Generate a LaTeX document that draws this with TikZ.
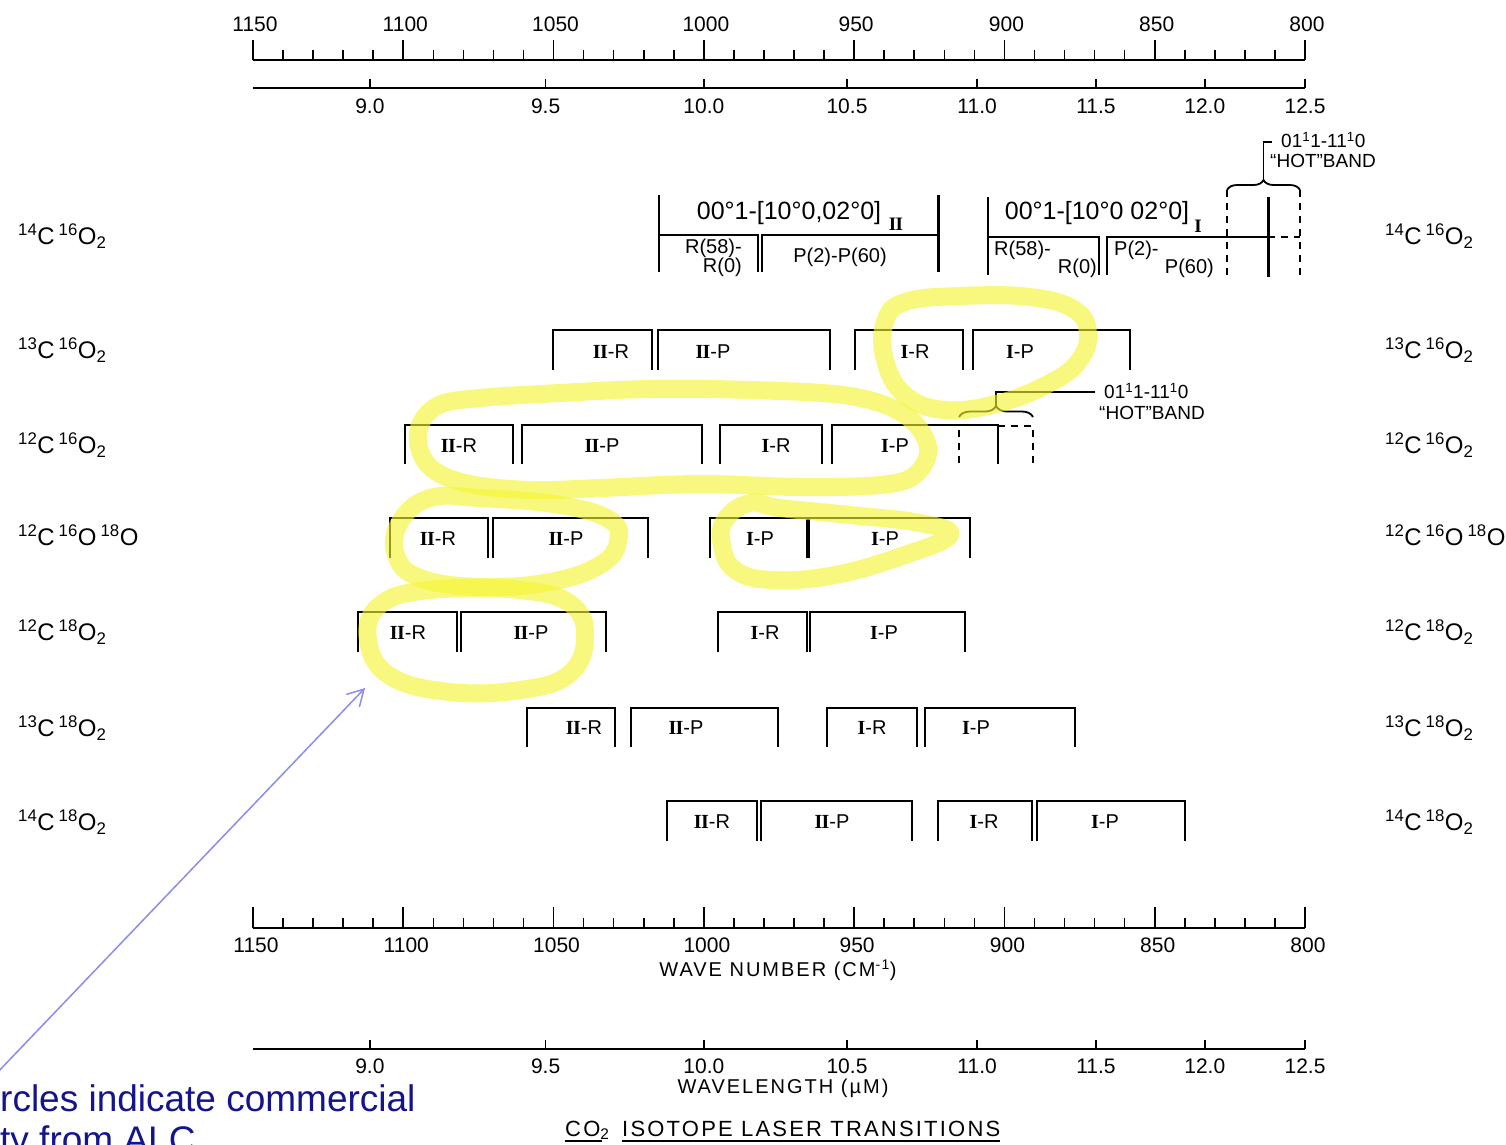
\documentclass[tikz,border=0pt]{standalone}
\usepackage{fontspec}
\setmainfont{Liberation Sans}
\newfontfamily\romfont{Liberation Serif}
\newfontfamily\spacedfont[LetterSpace=10]{Liberation Sans}
\usetikzlibrary{arrows.meta,decorations.pathreplacing}
\definecolor{hilite}{RGB}{245,245,50}
\definecolor{notecol}{RGB}{20,20,140}
\definecolor{arrowcol}{RGB}{140,140,235}
\newcommand{\romI}{{\romfont\bfseries I}}
\newcommand{\romII}{{\romfont\bfseries I\kern-0.6pt I}}
\begin{document}
\begin{tikzpicture}[x=1pt,y=-1pt,
  bx/.style={line width=2.3pt},
  thk/.style={line width=3pt},
  ax/.style={line width=1.8pt},
  tk/.style={line width=1.6pt},
  dsh/.style={line width=2.3pt, dash pattern=on 7pt off 6pt},
  iso/.style={font=\fontsize{24}{28}\selectfont, anchor=west, inner sep=0pt},
  num/.style={font=\fontsize{21}{24}\selectfont, inner sep=0pt},
  blab/.style={font=\fontsize{20}{24}\selectfont, inner sep=0pt},
  sml/.style={font=\fontsize{20}{24}\selectfont, inner sep=0pt},
  hot/.style={font=\fontsize{19}{22}\selectfont, inner sep=0pt, anchor=west},
  hdr/.style={font=\fontsize{25}{28}\selectfont, inner sep=0pt},
  hsub/.style={font=\fontsize{19}{22}\selectfont, inner sep=0pt},
  axttl/.style={font={\spacedfont\fontsize{20}{24}\selectfont}, inner sep=0pt},
  ttl/.style={font={\spacedfont\fontsize{22}{26}\selectfont}, inner sep=0pt, anchor=base west},
  hl/.style={draw=hilite, opacity=0.62, line width=18pt, line cap=round, line join=round},
]
\useasboundingbox (0,0) rectangle (1506,1144);
\clip (0,0) rectangle (1506,1144);
\fill[white] (0,0) rectangle (1506,1144);

% ---------- top wavenumber axis ----------
\draw[ax] (253,60) -- (1305,60);
\foreach \n in {800,810,...,1150}{\draw[tk] ({253+(1150-\n)*3.0057},60) -- ++(0,-10);}
\foreach \n [count=\i] in {800,850,...,1150}{
  \draw[tk] ({253+(1150-\n)*3.0057},60) -- ++(0,-20);
  \node[num] (tn\i) at ({255+(1150-\n)*3.0057},24) {\n};}
% ---------- top wavelength axis ----------
\draw[ax] (253,88) -- (1305,88);
\foreach \l [count=\i] in {9.0,9.5,10.0,10.5,11.0,11.5,12.0,12.5}{
  \pgfmathsetmacro\xx{253+(1150-10000/\l)*3.0057}
  \draw[tk] (\xx,88) -- ++(0,-9);
  \node[num] (tw\i) at (\xx,106) {\l};}

% ---------- bottom wavenumber axis ----------
\draw[ax] (253,928) -- (1305,928);
\foreach \n in {800,810,...,1150}{\draw[tk] ({253+(1150-\n)*3.0057},928) -- ++(0,-10);}
\foreach \n [count=\i] in {800,850,...,1150}{
  \draw[tk] ({253+(1150-\n)*3.0057},928) -- ++(0,-21);
  \node[num] (bn\i) at ({256+(1150-\n)*3.0057},945) {\n};}
\node[axttl] (wnttl) at (778,970) {WAVE NUMBER (CM\textsuperscript{-1})};
% ---------- bottom wavelength axis ----------
\draw[ax] (253,1049) -- (1305,1049);
\foreach \l [count=\i] in {9.0,9.5,10.0,10.5,11.0,11.5,12.0,12.5}{
  \pgfmathsetmacro\xx{253+(1150-10000/\l)*3.0057}
  \draw[tk] (\xx,1049) -- ++(0,-9);
  \node[num] (bw\i) at (\xx,1066) {\l};}
\node[axttl] (wlttl) at (783,1088) {WAVELENGTH (µM)};
\node[ttl] (ttlA) at (565,1136) {CO\textsubscript{2}};
\node[ttl] (ttlB) at (622,1136) {ISOTOPE LASER TRANSITIONS};
\draw[ax] ([yshift=-5pt]ttlA.base west) -- ([yshift=-5pt,xshift=-8pt]ttlA.base east);
\draw[ax] ([yshift=-5pt]ttlB.base west) -- ([yshift=-5pt]ttlB.base east);

% ---------- isotope labels ----------
\foreach \y/\lab [count=\i] in {
  236/\textsuperscript{14}C\,\textsuperscript{16}O\textsubscript{2},
  350/\textsuperscript{13}C\,\textsuperscript{16}O\textsubscript{2},
  445/\textsuperscript{12}C\,\textsuperscript{16}O\textsubscript{2},
  535/\textsuperscript{12}C\,\textsuperscript{16}O\,\textsuperscript{18}O,
  632/\textsuperscript{12}C\,\textsuperscript{18}O\textsubscript{2},
  728/\textsuperscript{13}C\,\textsuperscript{18}O\textsubscript{2},
  822/\textsuperscript{14}C\,\textsuperscript{18}O\textsubscript{2}}{
  \node[iso] (isoL\i) at (18,\y) {\lab};
  \node[iso] (isoR\i) at (1385,\y) {\lab};}

% ---------- row 1: 14C16O2 ----------
\draw[bx] (659,195) -- (659,272);
\draw[thk] (938,195) -- (938,272);
\draw[bx] (659,235) -- (758,235) -- (758,272);
\draw[bx] (762,272) -- (762,235) -- (938,235);
\node[hdr] (hA) at (789,213) {00°1-[10°0,02°0]};
\node[hsub] (hAs) at (896,224) {\romII};
\node[sml, anchor=east] (rA1) at (742,248) {R(58)-};
\node[sml, anchor=east] (rA2) at (742,267) {R(0)};
\node[sml] (pA) at (840,257) {P(2)-P(60)};

\draw[bx] (988,197) -- (988,275);
\draw[bx] (988,237) -- (1099,237) -- (1099,275);
\draw[bx] (1107,275) -- (1107,237) -- (1268,237);
\draw[thk] (1268,197) -- (1268,277);
\draw[dsh] (1227,190) -- (1227,277);
\draw[dsh] (1300,190) -- (1300,277);
\draw[dsh] (1268,237) -- (1300,237);
\node[hdr] (hB) at (1097,213) {00°1-[10°0 02°0]};
\node[hsub] (hBs) at (1198,226) {\romI};
\node[sml, anchor=west] (rB1) at (994,250) {R(58)-};
\node[sml, anchor=east] (rB2) at (1097,268) {R(0)};
\node[sml, anchor=west] (pB1) at (1114,250) {P(2)-};
\node[sml, anchor=east] (pB2) at (1214,268) {P(60)};
\draw[line width=1.8pt, decorate, decoration={brace, amplitude=10pt}] (1227,190) -- (1300,190);
\coordinate (hb1tip) at (1263.5,180);
\coordinate (hb1end) at (1272,142);
\draw[line width=1.8pt] (hb1tip) |- (hb1end);
\node[hot] (hb1a) at (1281,140) {01\textsuperscript{1}1-11\textsuperscript{1}0};
\node[hot] (hb1b) at (1270,161) {“HOT”BAND};

% ---------- rows 2-7: bracket boxes ----------
% row 2 13C16O2
\foreach \a/\b/\lx/\t [count=\i] in {553/652/611/\romII-R, 658/830/713/\romII-P, 855/963/915/\romI-R, 973/1130/1020/\romI-P}{
  \draw[bx] (\a,370) |- (\b,330) -- (\b,370);
  \node[blab] (r2b\i) at (\lx,352) {\t};}
% row 3 12C16O2
\foreach \a/\b/\lx/\t [count=\i] in {405/513/459/\romII-R, 522/702/602/\romII-P, 720/822/776/\romI-R, 832/998/895/\romI-P}{
  \draw[bx] (\a,464) |- (\b,425) -- (\b,464);
  \node[blab] (r3b\i) at (\lx,446) {\t};}
\draw[dsh] (959,430) -- (959,465);
\draw[dsh] (998,426) -- (1033,426) -- (1033,465);
\draw[line width=1.8pt, decorate, decoration={brace, amplitude=11pt}] (959,417) -- (1033,417);
\coordinate (hb2tip) at (996,407);
\coordinate (hb2end) at (1095,392);
\draw[line width=1.8pt] (hb2tip) |- (hb2end);
\node[hot] (hb2a) at (1104,391) {01\textsuperscript{1}1-11\textsuperscript{1}0};
\node[hot] (hb2b) at (1099,413) {“HOT”BAND};
% row 4 12C16O18O
\foreach \a/\b/\lx/\t [count=\i] in {390/488/438/\romII-R, 493/648/566/\romII-P, 710/807/760/\romI-P, 809/970/885/\romI-P}{
  \draw[bx] (\a,558) |- (\b,518) -- (\b,558);
  \node[blab] (r4b\i) at (\lx,539) {\t};}
% row 5 12C18O2
\foreach \a/\b/\lx/\t [count=\i] in {358/457/408/\romII-R, 461/606/531/\romII-P, 718/807/765/\romI-R, 810/965/884/\romI-P}{
  \draw[bx] (\a,652) |- (\b,612) -- (\b,652);
  \node[blab] (r5b\i) at (\lx,633) {\t};}
% row 6 13C18O2
\foreach \a/\b/\lx/\t [count=\i] in {527/615/584/\romII-R, 631/778/686/\romII-P, 827/917/872/\romI-R, 925/1075/976/\romI-P}{
  \draw[bx] (\a,747) |- (\b,708) -- (\b,747);
  \node[blab] (r6b\i) at (\lx,728) {\t};}
% row 7 14C18O2
\foreach \a/\b/\lx/\t [count=\i] in {667/757/712/\romII-R, 761/912/832/\romII-P, 938/1032/984/\romI-R, 1037/1185/1105/\romI-P}{
  \draw[bx] (\a,841) |- (\b,801) -- (\b,841);
  \node[blab] (r7b\i) at (\lx,822) {\t};}

% ---------- yellow highlights ----------
\draw[hl] plot[smooth cycle, tension=0.7] coordinates {(885,322) (905,302) (960,296) (1030,297) (1075,310) (1088,335) (1078,362) (1050,383) (1000,403) (945,410) (905,395) (885,360)};
\draw[hl] plot[smooth cycle, tension=0.6] coordinates {(418,432) (437,406) (480,398) (560,393) (650,389) (750,390) (850,396) (905,415) (928,447) (915,475) (880,485) (800,487) (700,484) (600,488) (530,490) (465,483) (428,465)};
\draw[hl] plot[smooth cycle, tension=0.7] coordinates {(400,522) (430,498) (480,498) (560,505) (610,520) (618,542) (600,565) (550,582) (480,587) (420,578) (396,555)};
\draw[hl] plot[smooth cycle, tension=0.7] coordinates {(725,520) (750,503) (780,508) (850,515) (920,523) (950,535) (905,555) (835,575) (772,580) (735,570) (722,545)};
\draw[hl] plot[smooth cycle, tension=0.7] coordinates {(380,605) (430,590) (520,590) (572,605) (585,640) (568,675) (520,690) (450,692) (390,676) (368,640)};

% ---------- annotation ----------
\coordinate (arrtail) at (-5,1075);
\coordinate (arrhead) at (365,688);
\draw[line width=1.5pt, arrowcol, -{Straight Barb[length=16pt,width=18pt,line width=1.5pt]}] (arrtail) -- (arrhead);
\node[font=\fontsize{37}{42}\selectfont, text=notecol, anchor=base west, inner sep=0pt] (note1) at (0,1111) {rcles indicate commercial};
\node[font=\fontsize{37}{42}\selectfont, text=notecol, anchor=base west, inner sep=0pt] (note2) at (0,1152) {ty from ALC};
\end{tikzpicture}
\end{document}
